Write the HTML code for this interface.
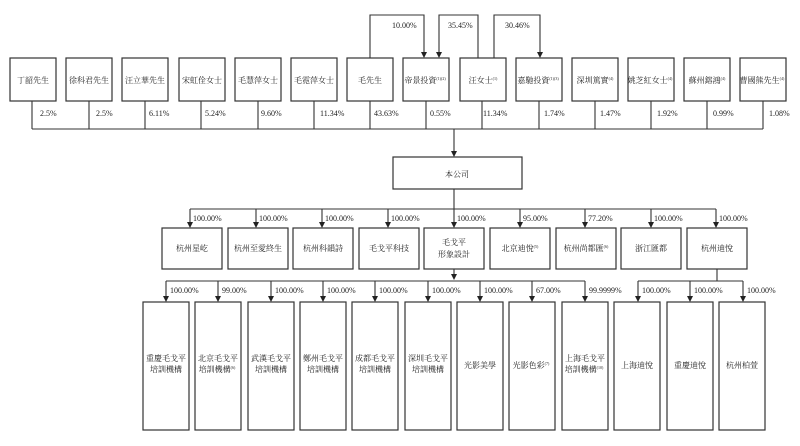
<!DOCTYPE html>
<html><head><meta charset="utf-8"><style>
html,body{margin:0;padding:0;background:#fff;}
svg{display:block;}
text{font-family:"Liberation Serif","Noto Serif CJK SC","Noto Sans CJK TC",serif;fill:#222;}
.b{fill:#fff;stroke:#333;stroke-width:1.2;}
.l{stroke:#333;stroke-width:1.1;fill:none;}
.t{font-size:9px;text-anchor:middle;}
.s{font-size:8px;text-anchor:middle;}
.p{font-size:8px;}
</style></head><body>
<svg width="800" height="446" viewBox="0 0 800 446" xmlns="http://www.w3.org/2000/svg">
<path class="l" d="M370,58 V15 H424 V52"/><path d="M421,52 h6 l-3,6z" fill="#222"/>
<path class="l" d="M478,58 V15 H439 V52"/><path d="M436,52 h6 l-3,6z" fill="#222"/>
<path class="l" d="M494,58 V15 H540 V52"/><path d="M537,52 h6 l-3,6z" fill="#222"/>
<text class="p" x="392" y="28">10.00%</text>
<text class="p" x="448" y="28">35.45%</text>
<text class="p" x="505" y="28">30.46%</text>
<g>
<rect class="b" x="10" y="58" width="46" height="43"/><text class="s" x="33" y="83">丁韶先生</text>
<rect class="b" x="66" y="58" width="46" height="43"/><text class="s" x="89" y="83">徐科君先生</text>
<rect class="b" x="122" y="58" width="46" height="43"/><text class="s" x="145" y="83">汪立華先生</text>
<rect class="b" x="179" y="58" width="46" height="43"/><text class="s" x="202" y="83">宋虹佺女士</text>
<rect class="b" x="235" y="58" width="46" height="43"/><text class="s" x="258" y="83">毛慧萍女士</text>
<rect class="b" x="291" y="58" width="46" height="43"/><text class="s" x="314" y="83">毛霓萍女士</text>
<rect class="b" x="347" y="58" width="46" height="43"/><text class="s" x="370" y="83">毛先生</text>
<rect class="b" x="403" y="58" width="46" height="43"/><text class="s" x="425" y="83">帝景投資<tspan font-size="4" dy="-3">(1)(2)</tspan></text>
<rect class="b" x="460" y="58" width="46" height="43"/><text class="s" x="483" y="83">汪女士<tspan font-size="4" dy="-3">(1)</tspan></text>
<rect class="b" x="516" y="58" width="46" height="43"/><text class="s" x="538" y="83">嘉馳投資<tspan font-size="4" dy="-3">(1)(3)</tspan></text>
<rect class="b" x="572" y="58" width="46" height="43"/><text class="s" x="595" y="83">深圳篤實<tspan font-size="4" dy="-3">(4)</tspan></text>
<rect class="b" x="628" y="58" width="46" height="43"/><text class="s" x="650" y="83">姚芝紅女士<tspan font-size="4" dy="-3">(4)</tspan></text>
<rect class="b" x="684" y="58" width="46" height="43"/><text class="s" x="707" y="83">蘇州鎔鴻<tspan font-size="4" dy="-3">(4)</tspan></text>
<rect class="b" x="740" y="58" width="46" height="43"/><text class="s" x="762" y="83">曹國熊先生<tspan font-size="4" dy="-3">(4)</tspan></text>
</g>
<path class="l" d="M32,101V129 M89,101V129 M145,101V129 M201,101V129 M258,101V129 M314,101V129 M370,101V129 M426,101V129 M482,101V129 M539,101V129 M595,101V129 M651,101V129 M707,101V129 M763,101V129 M32,129H763 M454,129V151"/>
<path d="M451,151h6l-3,6z" fill="#222"/>
<g class="p">
<text x="40" y="116">2.5%</text><text x="96" y="116">2.5%</text><text x="149" y="116">6.11%</text>
<text x="205" y="116">5.24%</text><text x="261" y="116">9.60%</text><text x="320" y="116">11.34%</text>
<text x="374" y="116">43.63%</text><text x="430" y="116">0.55%</text><text x="483" y="116">11.34%</text>
<text x="544" y="116">1.74%</text><text x="600" y="116">1.47%</text><text x="657" y="116">1.92%</text>
<text x="713" y="116">0.99%</text><text x="769" y="116">1.08%</text>
</g>
<rect class="b" x="393" y="157" width="129" height="32"/><text class="s" x="457" y="177">本公司</text>
<path class="l" d="M454,189V209 M190,209H716"/>
<g>
<path class="l" d="M190,209V222 M256,209V222 M322,209V222 M388,209V222 M454,209V222 M520,209V222 M585,209V222 M651,209V222 M716,209V222"/>
<g fill="#222"><path d="M187,222h6l-3,6z"/><path d="M253,222h6l-3,6z"/><path d="M319,222h6l-3,6z"/><path d="M385,222h6l-3,6z"/><path d="M451,222h6l-3,6z"/><path d="M517,222h6l-3,6z"/><path d="M582,222h6l-3,6z"/><path d="M648,222h6l-3,6z"/><path d="M713,222h6l-3,6z"/></g>
<g class="p"><text x="193" y="221">100.00%</text><text x="259" y="221">100.00%</text><text x="325" y="221">100.00%</text><text x="391" y="221">100.00%</text><text x="457" y="221">100.00%</text><text x="523" y="221">95.00%</text><text x="588" y="221">77.20%</text><text x="654" y="221">100.00%</text><text x="719" y="221">100.00%</text></g>
<rect class="b" x="162" y="228" width="60" height="41"/><text class="s" x="192" y="251">杭州星屹</text>
<rect class="b" x="228" y="228" width="60" height="41"/><text class="s" x="258" y="251">杭州至愛終生</text>
<rect class="b" x="293" y="228" width="60" height="41"/><text class="s" x="323" y="251">杭州科韻詩</text>
<rect class="b" x="359" y="228" width="60" height="41"/><text class="s" x="389" y="251">毛戈平科技</text>
<rect class="b" x="424" y="228" width="60" height="41"/><text class="s" x="454" y="245">毛戈平</text><text class="s" x="454" y="257">形象設計</text>
<rect class="b" x="490" y="228" width="60" height="41"/><text class="s" x="520" y="251">北京迪悅<tspan font-size="4" dy="-3">(5)</tspan></text>
<rect class="b" x="556" y="228" width="60" height="41"/><text class="s" x="586" y="251">杭州尚都匯<tspan font-size="4" dy="-3">(6)</tspan></text>
<rect class="b" x="621" y="228" width="60" height="41"/><text class="s" x="651" y="251">浙江匯都</text>
<rect class="b" x="687" y="228" width="60" height="41"/><text class="s" x="717" y="251">杭州迪悅</text>
</g>
<path class="l" d="M454,269V274 M166,281H585 M717,269V281 M638,281H743"/>
<path d="M451,274h6l-3,6z" fill="#222"/>
<g>
<path class="l" d="M166,281V296 M218,281V296 M271,281V296 M323,281V296 M375,281V296 M428,281V296 M480,281V296 M532,281V296 M585,281V296 M638,281V296 M690,281V296 M743,281V296"/>
<g fill="#222"><path d="M163,296h6l-3,6z"/><path d="M215,296h6l-3,6z"/><path d="M268,296h6l-3,6z"/><path d="M320,296h6l-3,6z"/><path d="M372,296h6l-3,6z"/><path d="M425,296h6l-3,6z"/><path d="M477,296h6l-3,6z"/><path d="M529,296h6l-3,6z"/><path d="M582,296h6l-3,6z"/><path d="M635,296h6l-3,6z"/><path d="M687,296h6l-3,6z"/><path d="M740,296h6l-3,6z"/></g>
<g class="p"><text x="170" y="293">100.00%</text><text x="222" y="293">99.00%</text><text x="275" y="293">100.00%</text><text x="327" y="293">100.00%</text><text x="379" y="293">100.00%</text><text x="432" y="293">100.00%</text><text x="484" y="293">100.00%</text><text x="536" y="293">67.00%</text><text x="589" y="293">99.9999%</text><text x="642" y="293">100.00%</text><text x="694" y="293">100.00%</text><text x="747" y="293">100.00%</text></g>
<rect class="b" x="143" y="302" width="46" height="128"/><text class="s" x="166" y="361">重慶毛戈平</text><text class="s" x="166" y="372">培訓機構</text>
<rect class="b" x="195" y="302" width="46" height="128"/><text class="s" x="218" y="361">北京毛戈平</text><text class="s" x="217" y="372">培訓機構<tspan font-size="4" dy="-3">(6)</tspan></text>
<rect class="b" x="248" y="302" width="46" height="128"/><text class="s" x="271" y="361">武漢毛戈平</text><text class="s" x="271" y="372">培訓機構</text>
<rect class="b" x="300" y="302" width="46" height="128"/><text class="s" x="323" y="361">鄭州毛戈平</text><text class="s" x="323" y="372">培訓機構</text>
<rect class="b" x="352" y="302" width="46" height="128"/><text class="s" x="375" y="361">成都毛戈平</text><text class="s" x="375" y="372">培訓機構</text>
<rect class="b" x="405" y="302" width="46" height="128"/><text class="s" x="428" y="361">深圳毛戈平</text><text class="s" x="428" y="372">培訓機構</text>
<rect class="b" x="457" y="302" width="46" height="128"/><text class="s" x="480" y="368">光影美學</text>
<rect class="b" x="509" y="302" width="46" height="128"/><text class="s" x="531" y="368">光影色彩<tspan font-size="4" dy="-3">(7)</tspan></text>
<rect class="b" x="562" y="302" width="46" height="128"/><text class="s" x="585" y="361">上海毛戈平</text><text class="s" x="584" y="372">培訓機構<tspan font-size="4" dy="-3">(10)</tspan></text>
<rect class="b" x="614" y="302" width="46" height="128"/><text class="s" x="637" y="368">上海迪悅</text>
<rect class="b" x="667" y="302" width="46" height="128"/><text class="s" x="690" y="368">重慶迪悅</text>
<rect class="b" x="719" y="302" width="46" height="128"/><text class="s" x="742" y="368">杭州柏萱</text>
</g>
</svg>
</body></html>
